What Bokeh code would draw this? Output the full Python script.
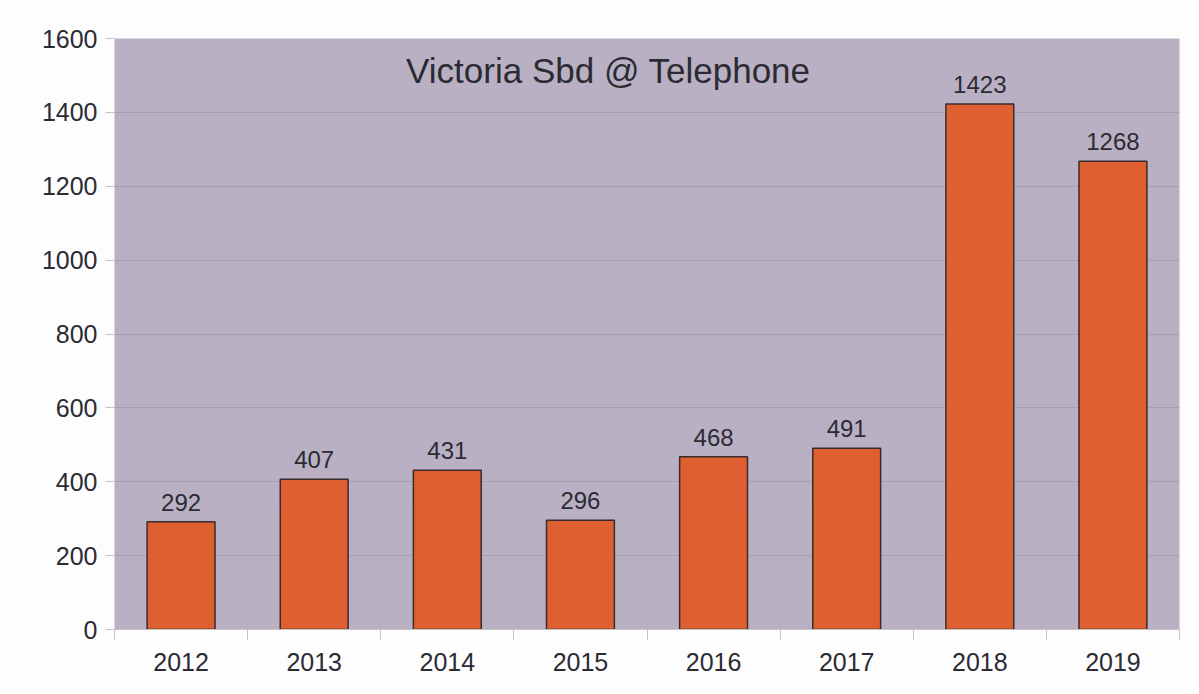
from bokeh.plotting import figure
from bokeh.models import FixedTicker, Range1d, Label, ColumnDataSource, LabelSet
from bokeh.core.properties import value
from bokeh.embed import file_html
from bokeh.resources import INLINE

years = ["2012", "2013", "2014", "2015", "2016", "2017", "2018", "2019"]
values = [292, 407, 431, 296, 468, 491, 1423, 1268]
y_ticks = [0, 200, 400, 600, 800, 1000, 1200, 1400, 1600]
title_text = "Victoria Sbd @ Telephone"

FONT = "Liberation Sans"
TXT = "#2b2b33"

xpos = [i + 0.5 for i in range(len(years))]
src = ColumnDataSource(dict(x=xpos, top=values, lab=[str(v) for v in values]))

p = figure(width=1191, height=686, output_backend="svg", toolbar_location=None,
           x_range=Range1d(0, len(years)), y_range=Range1d(0, 1600))
p.min_border_left = 114
p.min_border_right = 12
p.min_border_top = 38
p.min_border_bottom = 57
p.background_fill_color = "#b9b1c3"
p.border_fill_color = "#fdfdfd"
p.outline_line_color = None

p.vbar(x="x", top="top", width=0.51, bottom=0, source=src,
       fill_color="#de5f2f", line_color="#3a2c2c", line_width=1.5)

labels = LabelSet(x="x", y="top", text="lab", source=src, text_align="center",
                  text_baseline="bottom", y_offset=11, text_font_size="24px",
                  text_font=value(FONT), text_color=TXT)
p.add_layout(labels)

p.add_layout(Label(x=3.71, y=1513, text=title_text, text_align="center",
                   text_baseline="middle", text_font_size="35px", text_font=FONT,
                   text_color=TXT))

# x axis: labels at centers, tick marks at category boundaries
p.xaxis.ticker = FixedTicker(ticks=xpos, minor_ticks=list(range(len(years) + 1)))
p.xaxis.major_label_overrides = {x: y for x, y in zip(xpos, years)}
p.xaxis.major_tick_line_color = None
p.xaxis.minor_tick_line_color = "#c4c4c8"
p.xaxis.minor_tick_out = 11
p.xaxis.minor_tick_in = 0
p.xaxis.axis_line_color = "#c4c4c8"
p.xaxis.major_label_text_font_size = "25px"
p.xaxis.major_label_text_font = FONT
p.xaxis.major_label_text_color = TXT
p.xaxis.major_label_standoff = 12

p.yaxis.ticker = FixedTicker(ticks=y_ticks)
p.yaxis.minor_tick_line_color = None
p.yaxis.major_tick_line_color = "#c4c4c8"
p.yaxis.major_tick_out = 9
p.yaxis.major_tick_in = 0
p.yaxis.axis_line_color = None
p.yaxis.major_label_text_font_size = "25px"
p.yaxis.major_label_text_font = FONT
p.yaxis.major_label_text_color = TXT
p.yaxis.major_label_standoff = 8

p.xgrid.grid_line_color = None
p.ygrid.grid_line_color = "#a79fb1"
p.ygrid.grid_line_width = 1

open("out.html", "w").write(file_html(p, INLINE))
